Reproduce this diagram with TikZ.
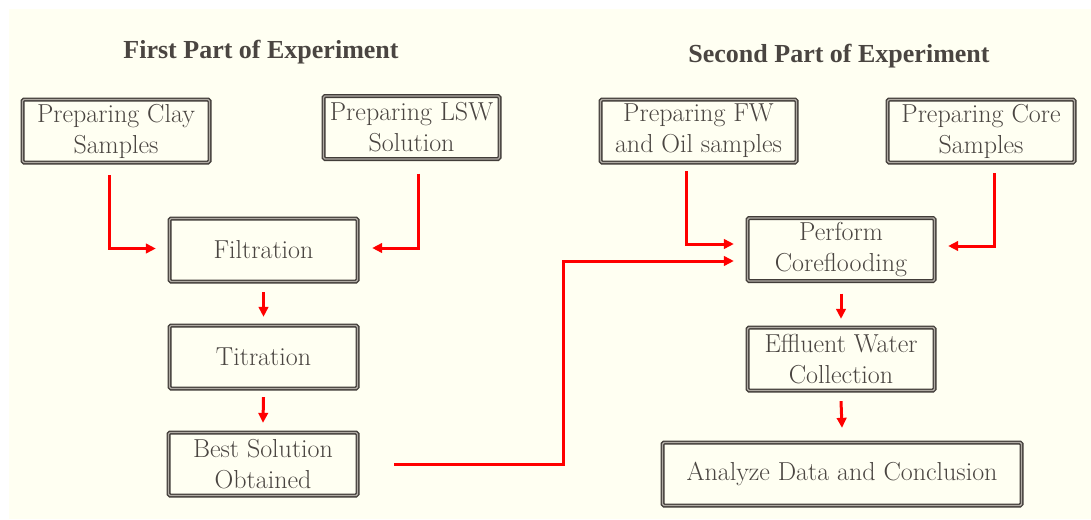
\documentclass[tikz,border=0pt]{standalone}
\usepackage{fontspec}
\newfontfamily\headfont{Liberation Serif}
\usetikzlibrary{arrows.meta}
\definecolor{cream}{RGB}{255,255,242}
\definecolor{boxdark}{RGB}{66,61,57}
\definecolor{boxmid}{RGB}{175,170,163}
\definecolor{txt}{RGB}{74,69,65}
\tikzset{
  stepbox/.style={draw=boxdark, line width=1.3pt, double=boxmid, double distance=1.4pt,
    rounded corners=1.5pt, fill=cream, text=txt, align=center,
    minimum height=63pt, inner sep=0pt,
    font=\rmfamily\fontsize{26}{31}\selectfont\addfontfeatures{FakeBold=0.6}},
  heading/.style={text=txt, font=\headfont\fontsize{26}{30}\selectfont\bfseries},
  flow/.style={draw=red, line width=3pt, -{Triangle[length=10pt,width=9.5pt]}}
}
\begin{document}
\begin{tikzpicture}[x=1pt,y=-1pt]
\useasboundingbox (0,0) rectangle (1091,519);
\fill[white] (0,0) rectangle (1091,519);
\fill[cream] (9,9) rectangle (1091,519);

\node[heading] (h1) at (261,52) {First Part of Experiment};
\node[heading] (h2) at (839,56) {Second Part of Experiment};

\node[stepbox, minimum width=187pt] (clay) at (116,131) {Preparing Clay\\Samples};
\node[stepbox, minimum width=176pt] (lsw) at (411.5,127.5) {Preparing LSW\\Solution};
\node[stepbox, minimum width=188pt] (filt) at (263.5,250) {Filtration};
\node[stepbox, minimum width=188pt] (tit) at (263.5,357) {Titration};
\node[stepbox, minimum width=189pt] (best) at (263,464) {Best Solution\\Obtained};

\node[stepbox, minimum width=196pt] (fw) at (698.5,131) {Preparing FW\\and Oil samples};
\node[stepbox, minimum width=187pt] (core) at (981,131) {Preparing Core\\Samples};
\node[stepbox, minimum width=187pt] (perf) at (841,249.5) {Perform\\Coreflooding};
\node[stepbox, minimum width=187pt] (eff) at (841,359) {Effluent Water\\Collection};
\node[stepbox, minimum width=359pt] (ana) at (842,474) {Analyze Data and Conclusion};

\draw[flow] ([xshift=-7pt,yshift=-12pt]clay.south) |- ([xshift=-13pt,yshift=1.5pt]filt.west);
\draw[flow] ([xshift=6.5pt,yshift=-14pt]lsw.south) |- ([xshift=14pt,yshift=2pt]filt.east);
\draw[flow] ([yshift=-10pt]filt.south) -- ([yshift=8pt]tit.north);
\draw[flow] ([yshift=-8pt]tit.south) -- ([yshift=9pt]best.north);
\draw[flow] ([xshift=36pt]best.east) -| ([xshift=-183pt,yshift=-11.5pt]perf.west) -- ([xshift=-13pt,yshift=-11.5pt]perf.west);
\draw[flow] ([xshift=-12.5pt,yshift=-8pt]fw.south) |- ([xshift=-13pt,yshift=5.5pt]perf.west);
\draw[flow] ([xshift=13pt,yshift=-10pt]core.south) |- ([xshift=13pt,yshift=3.5pt]perf.east);
\draw[flow] ([yshift=-12pt]perf.south) -- ([yshift=8pt]eff.north);
\draw[flow] ([yshift=-10pt]eff.south) -- ([yshift=14pt]ana.north);
\end{tikzpicture}
\end{document}
